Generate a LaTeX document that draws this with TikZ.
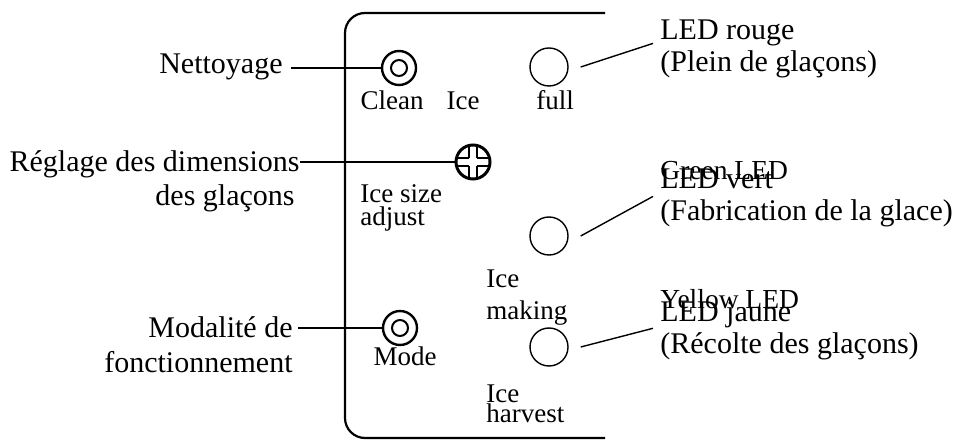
\documentclass[tikz,border=0pt]{standalone}
\usepackage{fontspec}
\setmainfont{Liberation Serif}
\begin{document}
\begin{tikzpicture}[x=0.5pt, y=-0.5pt,
    bigtxt/.style={font=\fontsize{15}{16}\selectfont, inner sep=0pt},
    overtxt/.style={font=\fontsize{13.75}{15}\selectfont, inner sep=0pt},
    smalltxt/.style={font=\fontsize{13.5}{11.5}\selectfont, inner sep=0pt},
    pushbtn/.style={circle, draw, line width=1.2pt, minimum size=17pt, inner sep=0pt,
      path picture={\draw[line width=1pt] (path picture bounding box.center) circle (4pt);}},
    knobbtn/.style={circle, draw, line width=1.5pt, minimum size=17pt, inner sep=0pt},
    led/.style={circle, draw, line width=0.7pt, minimum size=19pt, inner sep=0pt},
    lead/.style={line width=1.1pt},
    ledlead/.style={line width=0.7pt}]
  \useasboundingbox (0,0) rectangle (962,448);

  % panel
  \draw[line width=1.1pt, rounded corners=10pt] (605,13) -- (345,13) -- (345,438) -- (605,438);

  % buttons and LEDs
  \node[pushbtn] (clean) at (399,68) {};
  \node[pushbtn] (mode) at (400,328) {};
  \node[knobbtn] (knob) at (473,162) {};
  \foreach \sx/\sy in {1/1,1/-1,-1/1,-1/-1} {
    \draw[line width=0.8pt] ([shift={(4*\sx,4*\sy)}]knob.center) -- ([shift={(4*\sx,16*\sy)}]knob.center);
    \draw[line width=0.8pt] ([shift={(4*\sx,4*\sy)}]knob.center) -- ([shift={(16*\sx,4*\sy)}]knob.center);
  }
  \node[led] (ledfull) at (549,67) {};
  \node[led] (ledmaking) at (549,236) {};
  \node[led] (ledharvest) at (549,347) {};

  % panel texts (base = last line)
  \node[smalltxt, anchor=base] (tclean) at (392,110) {Clean};
  \node[smalltxt, anchor=base] (tice) at (463,110) {Ice};
  \node[smalltxt, anchor=base] (tfull) at (555,110) {full};
  \node[smalltxt, anchor=base west, align=left] (tsize) at (360,226) {Ice size\\adjust};
  \node[smalltxt, anchor=base west, align=left] (tmaking) at (486,320) {Ice\\[5pt]making};
  \node[smalltxt, anchor=base west, align=left] (tharvest) at (486,422) {Ice\\[-1.5pt]harvest};
  \node[smalltxt, anchor=base] (tmode) at (405,365) {Mode};

  % left labels
  \node[bigtxt, anchor=base east] (nettoyage) at (283,74) {Nettoyage};
  \node[bigtxt, anchor=base east, align=right] (reglage) at (300,206) {Réglage des dimensions\\[1pt]des glaçons\hspace*{2.5pt}};
  \node[bigtxt, anchor=base east, align=right] (modalite) at (293,372) {Modalité de\\[1.5pt]fonctionnement};

  % right labels
  \node[bigtxt, anchor=base west, align=left] (rouge) at (660,72) {LED rouge\\(Plein de glaçons)};
  \node[bigtxt, anchor=base west, align=left] (vert) at (660,221) {LED vert\\(Fabrication de la glace)};
  \node[bigtxt, anchor=base west, align=left] (jaune) at (660,353) {LED jaune\\(Récolte des glaçons)};
  \node[overtxt, anchor=base west] (green) at (660,180) {Green LED};
  \node[overtxt, anchor=base west] (yellow) at (660,308) {Yellow LED};

  % leaders
  \draw[lead, shorten >=4pt] (clean.west) -- (clean.west -| nettoyage.east);
  \draw[lead] (knob.west) -- (knob.west -| reglage.north east);
  \draw[lead, shorten >=2.5pt] (mode.west) -- (mode.west -| modalite.east);
  \draw[ledlead] ([xshift=6pt]ledfull.east) -- ([xshift=-3.5pt, yshift=3pt]rouge.west);
  \draw[ledlead] ([xshift=6pt]ledmaking.east) -- ([xshift=-3.5pt, yshift=1pt]vert.west);
  \draw[ledlead] ([xshift=6pt]ledharvest.east) -- ([xshift=-3.5pt, yshift=1pt]jaune.west);
\end{tikzpicture}
\end{document}
